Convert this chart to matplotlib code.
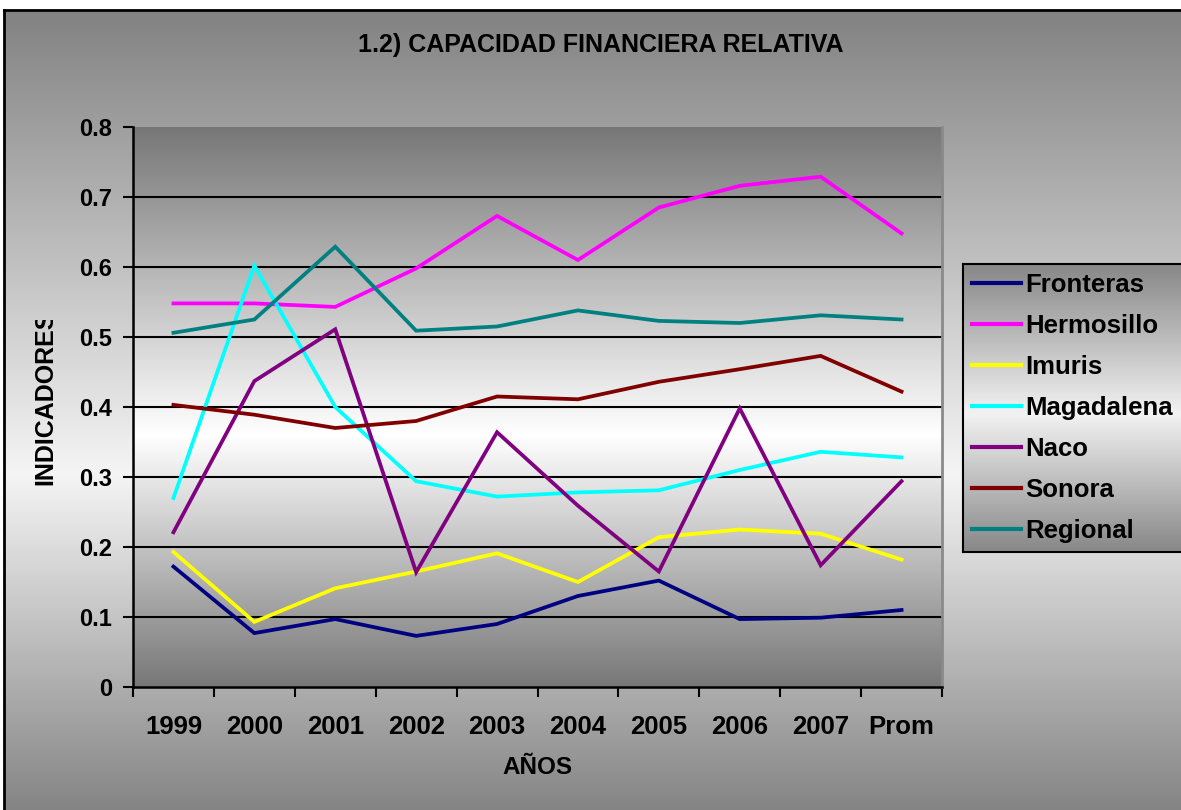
import numpy as np
import matplotlib
matplotlib.use('Agg')
import matplotlib.pyplot as plt
from matplotlib.transforms import Bbox

plt.rcParams['font.family'] = ['Liberation Sans', 'DejaVu Sans']
plt.rcParams['font.weight'] = 'bold'

# data
years = ['1999', '2000', '2001', '2002', '2003', '2004', '2005', '2006', '2007', 'Prom']
fronteras = [0.172, 0.077, 0.097, 0.073, 0.090, 0.130, 0.152, 0.097, 0.099, 0.110]
hermosillo = [0.548, 0.548, 0.543, 0.598, 0.673, 0.610, 0.685, 0.716, 0.729, 0.648]
imuris = [0.193, 0.093, 0.141, 0.165, 0.191, 0.150, 0.214, 0.225, 0.219, 0.182]
magadalena = [0.270, 0.602, 0.400, 0.294, 0.272, 0.278, 0.281, 0.310, 0.336, 0.328]
naco = [0.221, 0.437, 0.511, 0.164, 0.364, 0.259, 0.165, 0.398, 0.174, 0.294]
sonora = [0.403, 0.389, 0.370, 0.380, 0.415, 0.411, 0.436, 0.454, 0.473, 0.422]
regional = [0.506, 0.525, 0.629, 0.509, 0.515, 0.538, 0.523, 0.520, 0.531, 0.525]

series_names = ['Fronteras', 'Hermosillo', 'Imuris', 'Magadalena', 'Naco', 'Sonora', 'Regional']
series_vals = [fronteras, hermosillo, imuris, magadalena, naco, sonora, regional]
series_colors = ['#000080', '#FF00FF', '#FFFF00', '#00FFFF', '#800080', '#800000', '#008080']

y_ticks = [0, 0.1, 0.2, 0.3, 0.4, 0.5, 0.6, 0.7, 0.8]
y_ticklabels = ['0', '0.1', '0.2', '0.3', '0.4', '0.5', '0.6', '0.7', '0.8']


def vgrad(top, peak, bottom, peak_pos, n=400):
    # vertical gray gradient, row 0 = top
    t = np.linspace(0, 1, n)
    g = np.interp(t, [0, peak_pos, 1], [top, peak, bottom])
    col = np.repeat(g[:, None], 2, axis=1)
    return np.stack([col, col, col], axis=-1)


W, H = 1181, 810
fig = plt.figure(figsize=(W / 100, H / 100), dpi=100)
fig.patch.set_facecolor('white')

# outer chart area with border
bg = fig.add_axes([4 / W, 0, 1, (H - 10) / H], zorder=-10)
bg.imshow(vgrad(0.51, 0.96, 0.52, 0.58), extent=(0, 1, 0, 1), aspect='auto', interpolation='bilinear')
bg.set_xlim(0, 1)
bg.set_ylim(0, 1)
bg.set_xticks([])
bg.set_yticks([])
for s in ['right', 'bottom']:
    bg.spines[s].set_visible(False)
for s in ['left', 'top']:
    bg.spines[s].set_linewidth(2)

# plot area
ax = fig.add_axes([133 / W, 1 - 687 / H, (942 - 133) / W, (687 - 127) / H])
ax.patch.set_visible(False)
ax.imshow(vgrad(0.467, 1.0, 0.467, 0.55), extent=(-0.5, 9.5, 0, 0.8), aspect='auto',
          interpolation='bilinear', zorder=0)
ax.set_xlim(-0.5, 9.5)
ax.set_ylim(0, 0.8)

for yv in y_ticks[1:-1]:
    ax.axhline(yv, color='black', lw=1.5, zorder=2)

x = np.arange(len(years))
lines = []
for name, vals, col in zip(series_names, series_vals, series_colors):
    ln, = ax.plot(x, vals, color=col, lw=2.7, label=name, zorder=3, solid_joinstyle='miter')
    lines.append(ln)

ax.set_yticks(y_ticks)
ax.set_yticklabels(y_ticklabels, fontsize=17, fontweight='bold')
ax.tick_params(axis='y', length=7, width=1.5, pad=8)

ax.set_xticks(np.arange(-0.5, 10, 1))
ax.set_xticklabels([])
ax.set_xticks(x, minor=True)
ax.set_xticklabels(years, minor=True, fontsize=18.5, fontweight='bold')
ax.tick_params(axis='x', which='major', length=7, width=1.5, direction='out')
ax.tick_params(axis='x', which='minor', length=0, pad=20)

ax.spines['top'].set_visible(False)
ax.spines['right'].set_color('#8a8a8a')
ax.spines['right'].set_linewidth(2)
ax.spines['left'].set_linewidth(1.8)
ax.spines['bottom'].set_linewidth(1.8)

# texts
fig.text(601 / W, 1 - 45 / H, '1.2) CAPACIDAD FINANCIERA RELATIVA', ha='center', va='center',
         fontsize=18, fontweight='bold')
fig.text(537 / W, 1 - 767 / H, 'AÑOS', ha='center', va='center', fontsize=17.5, fontweight='bold')
yl = fig.text(45 / W, 1 - 398 / H, 'INDICADORES', ha='center', va='center', rotation=90,
              fontsize=18, fontweight='bold')
yl.set_clip_box(Bbox([[0, 0], [W, H - 320]]))
yl.set_clip_on(True)

# legend box
lax = fig.add_axes([963 / W, 1 - 552 / H, (1200 - 963) / W, (552 - 264) / H])
lax.imshow(vgrad(0.53, 0.95, 0.53, 0.52), extent=(0, 1, 0, 1), aspect='auto', interpolation='bilinear')
lax.set_xlim(0, 1)
lax.set_ylim(0, 1)
lax.set_xticks([])
lax.set_yticks([])
for s in lax.spines.values():
    s.set_linewidth(1.5)
leg = lax.legend(lines, series_names, loc='center left', bbox_to_anchor=(-0.01, 0.5), frameon=False,
                 prop={'size': 18.5, 'weight': 'bold'}, handlelength=1.9, handletextpad=0.15,
                 labelspacing=0.66, borderaxespad=0.05)
for h in leg.legend_handles:
    h.set_linewidth(3)

fig.savefig('out.png', dpi=100)
